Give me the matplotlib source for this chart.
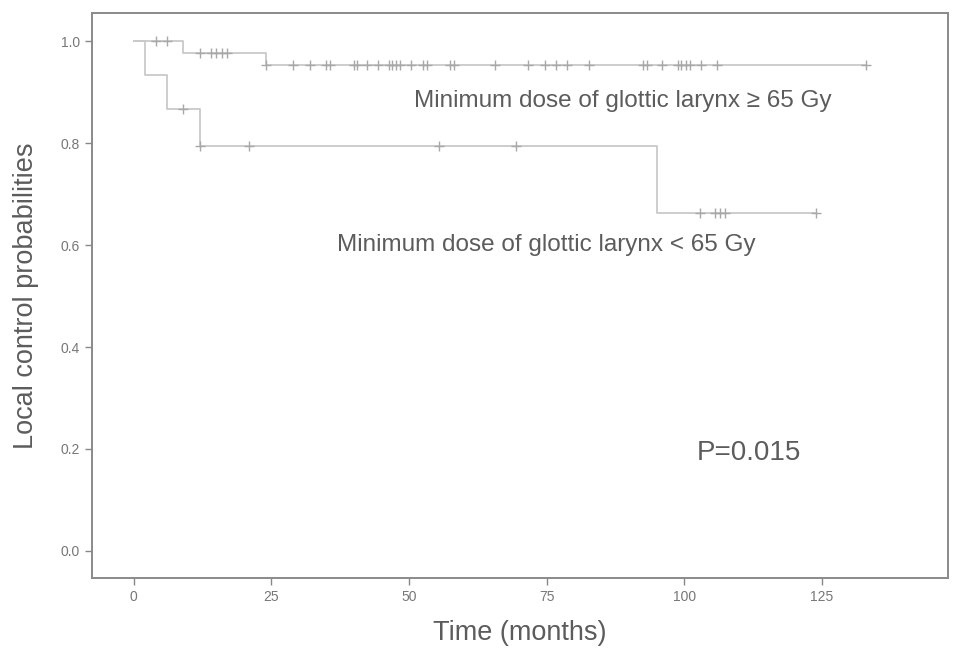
import numpy as np
import matplotlib
matplotlib.use("Agg")
import matplotlib.pyplot as plt

# Kaplan-Meier steps (months, probability)
high_times = [0, 9, 24, 133]
high_surv = [1.0, 0.977, 0.954, 0.954]
high_censor = [4, 6, 12, 14, 15, 16, 17, 24, 29, 32, 35, 35.6, 40, 40.5,
               42.4, 44.4, 46.4, 47, 47.7, 48.3, 50.4, 52.6, 53.2, 57.4,
               58.1, 65.6, 71.6, 74.8, 76.8, 78.7, 82.7, 92.5, 93.3, 95.9,
               98.9, 99.5, 100.3, 101, 103, 106, 133]

low_times = [0, 2, 6, 12, 95, 124]
low_surv = [1.0, 0.933, 0.867, 0.794, 0.662, 0.662]
low_censor = [9, 12, 21, 55.5, 69.5, 102.8, 105.7, 106.5, 107.4, 124]

x_ticks = [0, 25, 50, 75, 100, 125]
y_ticks = [0.0, 0.2, 0.4, 0.6, 0.8, 1.0]

LINE = "#c9c9c9"
MARK = "#a8a8a8"
TEXT = "#5c5c5c"

plt.rcParams["font.family"] = ["Liberation Sans", "DejaVu Sans"]


def surv_at(times, surv, t):
    idx = np.searchsorted(times, t, side="right") - 1
    return np.asarray(surv)[idx]


def draw_curve(ax, times, surv, censor):
    ax.step(times, surv, where="post", color=LINE, lw=1.3)
    ax.plot(censor, surv_at(times, surv, censor), ls="none", marker="+",
            ms=7, mew=1.0, color=MARK)


fig = plt.figure(figsize=(9.69, 6.59), dpi=100)
ax = fig.add_axes([0.095, 0.123, 0.883, 0.857])

draw_curve(ax, high_times, high_surv, high_censor)
draw_curve(ax, low_times, low_surv, low_censor)

ax.set_xlim(-7.6, 147.9)
ax.set_ylim(-0.053, 1.055)
ax.set_xticks(x_ticks)
ax.set_yticks(y_ticks)
ax.set_yticklabels([f"{v:.1f}" for v in y_ticks])
ax.tick_params(direction="out", length=5, width=1, color="#888888",
               labelcolor="#777777", labelsize=10)

for sp in ax.spines.values():
    sp.set_color("#8a8a8a")
    sp.set_linewidth(1.4)

ax.set_xlabel("Time (months)", fontsize=19.5, color=TEXT, labelpad=12)
ax.set_ylabel("Local control probabilities", fontsize=19.5, color=TEXT, labelpad=16)

ax.text(51, 0.882, "Minimum dose of glottic larynx \u2265 65 Gy",
        fontsize=17.5, color=TEXT, va="center")
ax.text(37, 0.601, "Minimum dose of glottic larynx < 65 Gy",
        fontsize=17.5, color=TEXT, va="center")
ax.text(102.3, 0.193, "P=0.015", fontsize=20, color=TEXT, va="center")

fig.savefig("out.png", dpi=100)
